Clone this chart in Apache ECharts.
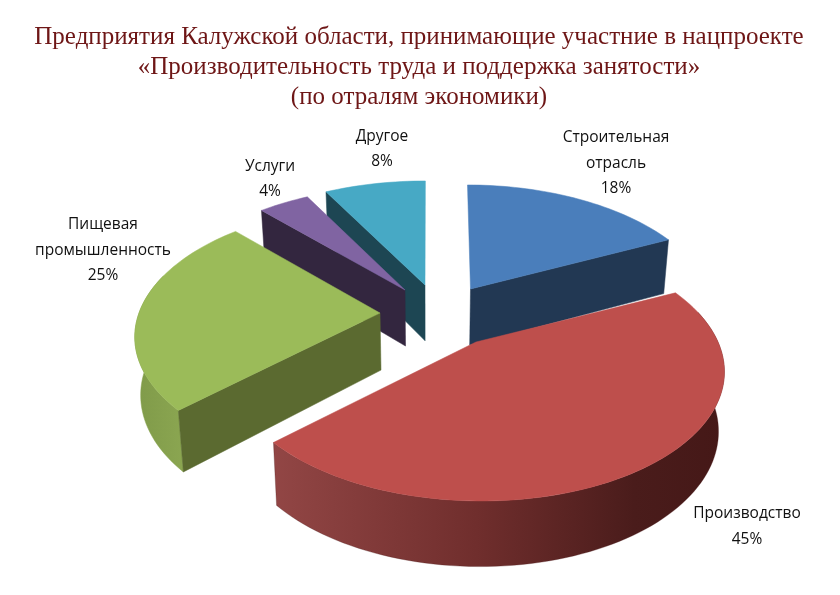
<!DOCTYPE html>
<html><head><meta charset="utf-8">
<style>html,body{margin:0;padding:0;background:#fff}#c{width:840px;height:595px}</style>
<script src="https://cdn.jsdelivr.net/npm/echarts@6/dist/echarts.min.js"></script>
</head><body><div id="c"></div>
<script>
const titleText = 'Предприятия Калужской области, принимающие участние в нацпроекте\n«Производительность труда и поддержка занятости»\n(по отралям экономики)';
const categories = ['Строительная\nотрасль', 'Производство', 'Пищевая\nпромышленность', 'Услуги', 'Другое'];
const shares = [18, 45, 25, 4, 8];

// Styling and layout of the drawn pie (not data)
const topColors = ['#4a7ebb', '#be4f4c', '#9bbb59', '#8064a2', '#47a9c5'];
const edgeColors = ['#223853', '#8f4342', '#5b6a30', '#33263f', '#1d4653'];
const apexes = [[470.5, 289], [476, 342], [380, 313], [405, 290], [425, 285]];
const radiiX = [240, 242, 241, 244, 244];
const perspective = [0.209, 0.209, 0.17, 0.209, 0.209];
const labelPos = [[616, 163.5], [747, 526.5], [103, 250.5], [270, 179], [382, 149]];
const drawOrder = [4, 0, 3, 2, 1];
const B = 125.8, VX = 430;

const total = shares.reduce((a, b) => a + b, 0);
const starts = []; shares.reduce((s, v, i) => (starts[i] = s, s + v), 0);
const rad = p => p / total * 2 * Math.PI;

function proj(i, r, ang) {
  const u = r * Math.sin(ang), v = r * Math.cos(ang), d = 1 + perspective[i] * v;
  const [ax, ay] = apexes[i];
  return [ax + radiiX[i] * u / d + (VX - ax) * (1 - 1 / d) * 0.43, ay - B * v / d];
}
function low(p) {
  return [VX + (p[0] - VX) * 0.98, p[1] + 43 + 0.045 * p[1]];
}
function arc(i, a0, a1) {
  const n = Math.max(2, Math.ceil(Math.abs(a1 - a0) / 0.03)), pts = [];
  for (let k = 0; k <= n; k++) pts.push(proj(i, 1, a0 + (a1 - a0) * k / n));
  return pts;
}
function poly(points, fill, stroke) {
  return { type: 'polygon', shape: { points }, style: { fill, stroke: stroke || fill, lineWidth: 0.5 } };
}
function gradient(stops) {
  return { type: 'linear', x: 0, y: 0, x2: 1, y2: 0,
    colorStops: stops.map(s => ({ offset: s[0], color: s[1] })) };
}
const band = pts => [...pts, ...pts.map(low).reverse()];

function renderSlice(params, api) {
  const i = api.value(0);
  const a0 = rad(starts[i]), a1 = rad(starts[i] + api.value(1));
  const apex = proj(i, 0, 0);
  const kids = [];
  if (i === 0) kids.push(poly(band([proj(i, 1, a1), apex]), edgeColors[0]));
  if (i === 3 || i === 4) kids.push(poly(band([proj(i, 1, a0), apex]), edgeColors[i]));
  if (i === 2) {
    kids.push(poly(band(arc(i, a0, a1 - 0.5)), gradient([[0, '#7f9a49'], [1, '#8ba651']]), '#84a04b'));
    kids.push(poly(band([proj(i, 1, a0), apex]), edgeColors[2]));
  }
  if (i === 1) {
    kids.push(poly(band(arc(i, a1, Math.PI * 0.42)),
      gradient([[0, '#924645'], [0.45, '#702e2d'], [0.8, '#4a1c1b'], [1, '#451817']]),
      'rgba(80,30,30,0.6)'));
  }
  kids.push(poly([apex, ...arc(i, a0, a1)], topColors[i]));
  const [lx, ly] = labelPos[i];
  kids.push({
    type: 'text', z2: 10,
    style: {
      text: categories[i] + '\n' + api.value(1) + '%',
      x: lx, y: ly, align: 'center', verticalAlign: 'middle',
      fill: '#111', font: '15.5px "Open Sans", sans-serif', lineHeight: 25.5
    }
  });
  return { type: 'group', children: kids };
}

const chart = echarts.init(document.getElementById('c'), null, { renderer: 'canvas' });
chart.setOption({
  animation: false,
  backgroundColor: '#fff',
  title: {
    text: titleText, left: 414, top: 17,
    textAlign: 'center',
    textStyle: { fontFamily: '"Liberation Serif"', fontSize: 25, fontWeight: 'normal',
      color: '#6e1616', lineHeight: 30, align: 'center' }
  },
  series: [{
    type: 'custom', coordinateSystem: 'none',
    renderItem: renderSlice,
    encode: { value: 1 },
    data: drawOrder.map(i => [i, shares[i]])
  }]
});
</script></body></html>
